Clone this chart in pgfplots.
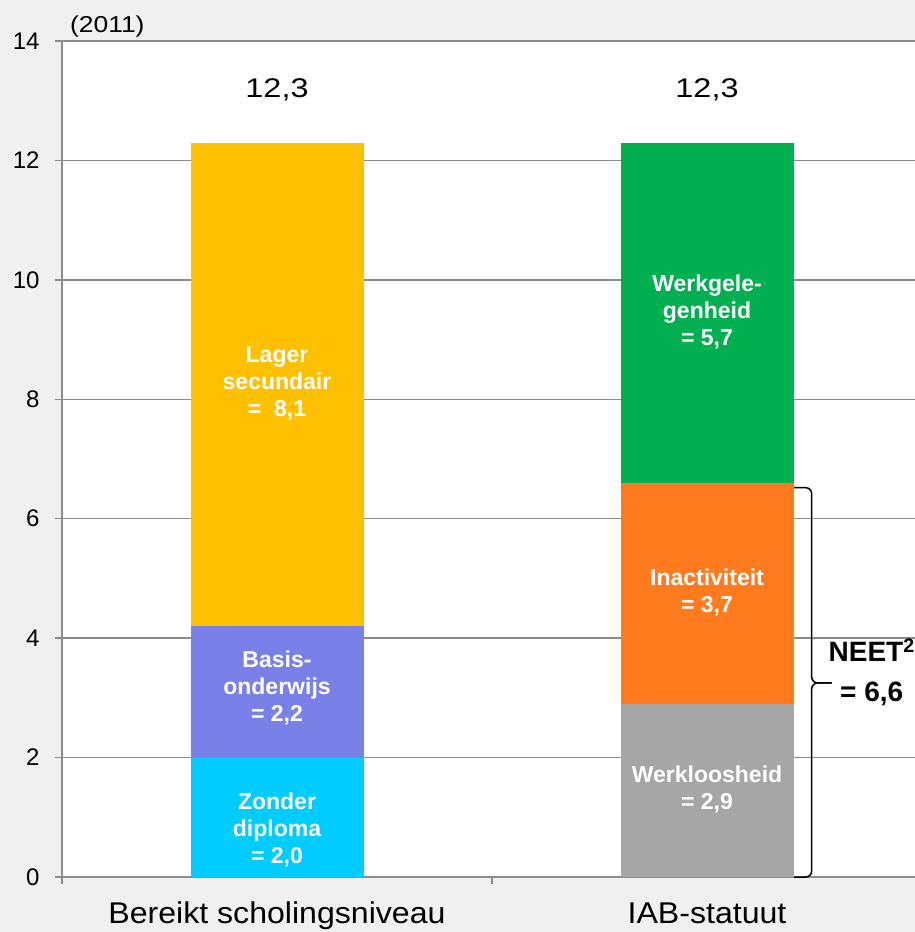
\documentclass[border=0pt]{standalone}
\usepackage{fontspec}
\setmainfont{Liberation Sans}
\usepackage{pgfplots}
\pgfplotsset{compat=1.18}
\definecolor{bg}{HTML}{F0F0F0}
\definecolor{gridc}{HTML}{8C8C8C}
\definecolor{ccyan}{HTML}{00CCFF}
\definecolor{cpurple}{HTML}{7980E8}
\definecolor{cyellow}{HTML}{FFC000}
\definecolor{cgray}{HTML}{A6A6A6}
\definecolor{corange}{HTML}{FF7B1E}
\definecolor{cgreen}{HTML}{00B050}
\begin{document}
\begin{tikzpicture}
\path[use as bounding box, fill=bg] (-62pt,-55pt) rectangle (853pt,877pt);
\begin{axis}[
  at={(0,0)}, anchor=south west,
  scale only axis, width=853pt, height=836pt,
  xmin=-0.5, xmax=1.4837, ymin=0, ymax=14,
  axis background/.style={fill=white},
  axis x line*=bottom, axis y line*=left,
  axis line style={draw=gridc, line width=1.5pt},
  ymajorgrids, grid style={draw=gridc, line width=1.5pt},
  ytick={0,2,...,14},
  xtick={-0.5,0.5,1.5}, xticklabels={},
  tick align=outside, major tick length=7pt,
  tick style={draw=gridc, line width=1.5pt},
  yticklabel style={font=\fontsize{24}{28}\selectfont, xshift=-12pt, /pgf/number format/assume math mode=true},
  ybar stacked, bar width=173pt,
  clip=false,
]
\addplot[fill=ccyan, draw=none] coordinates {(0,2.0) (1,0)};
\addplot[fill=cpurple, draw=none] coordinates {(0,2.2) (1,0)};
\addplot[fill=cyellow, draw=none] coordinates {(0,8.1) (1,0)};
\addplot[fill=cgray, draw=none] coordinates {(0,0) (1,2.9)};
\addplot[fill=corange, draw=none] coordinates {(0,0) (1,3.7)};
\addplot[fill=cgreen, draw=none] coordinates {(0,0) (1,5.7)};

\coordinate (l1) at (axis cs:0,0.79);
\coordinate (l2) at (axis cs:0,3.17);
\coordinate (l3) at (axis cs:0,8.27);
\coordinate (r1) at (axis cs:1,1.47);
\coordinate (r2) at (axis cs:1,4.77);
\coordinate (r3) at (axis cs:1,9.46);

\node[font=\fontsize{27}{30}\selectfont] at (axis cs:0,13.18) {\scalebox{1.2}[1]{12,3}};
\node[font=\fontsize{27}{30}\selectfont] at (axis cs:1,13.18) {\scalebox{1.2}[1]{12,3}};

\node[anchor=base, font=\fontsize{30}{34}\selectfont] at (axis cs:0,-0.78) {\scalebox{1.07}[1]{Bereikt scholingsniveau}};
\node[anchor=base, font=\fontsize{30}{34}\selectfont] at (axis cs:1,-0.78) {\scalebox{1.07}[1]{IAB-statuut}};

\node[anchor=base west, font=\fontsize{23}{26}\selectfont] at (axis cs:-0.4895,14.15) {\scalebox{1.15}[1]{(2011)}};

\draw[line width=1.5pt, rounded corners=6pt] (axis cs:1.2023,6.52) -- (axis cs:1.2435,6.52) -- (axis cs:1.2435,3.25) -- (axis cs:1.2900,3.25);
\draw[line width=1.5pt, rounded corners=6pt] (axis cs:1.2023,0) -- (axis cs:1.2435,0) -- (axis cs:1.2435,3.25) -- (axis cs:1.2900,3.25);

\node[align=center, font=\bfseries\fontsize{28}{40}\selectfont] at (axis cs:1.383,3.42) {NEET\textsuperscript{2}\\= 6,6};
\end{axis}
\tikzset{lbl/.style={text=white, align=center, font=\bfseries\fontsize{23}{27}\selectfont}}
\node[lbl] at (l1) {Zonder\\diploma\\= 2,0};
\node[lbl] at (l2) {Basis-\\onderwijs\\= 2,2};
\node[lbl] at (l3) {Lager\\secundair\\=\ \ 8,1};
\node[lbl] at (r1) {Werkloosheid\\= 2,9};
\node[lbl] at (r2) {Inactiviteit\\= 3,7};
\node[lbl] at (r3) {Werkgele-\\genheid\\= 5,7};
\end{tikzpicture}
\end{document}
